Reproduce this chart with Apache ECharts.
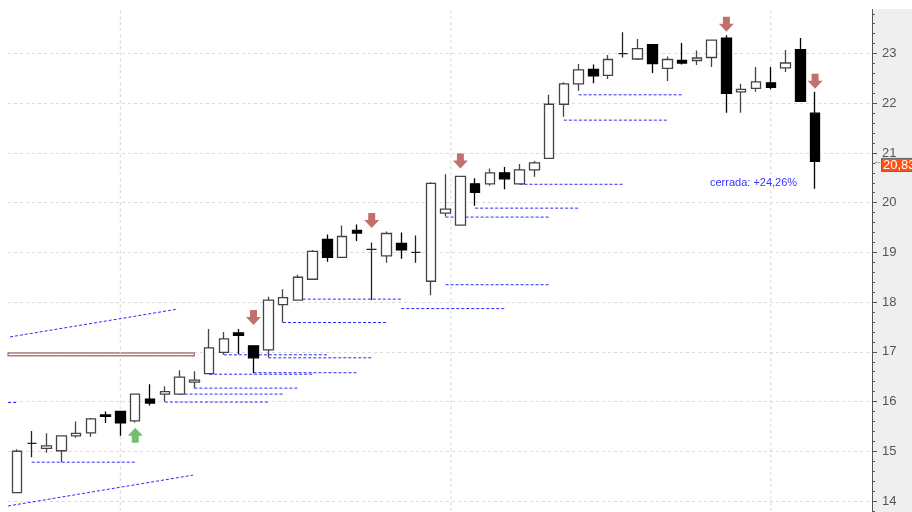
<!DOCTYPE html>
<html lang="es">
<head>
<meta charset="utf-8">
<title>Velas diarias</title>
<script src="https://cdn.jsdelivr.net/npm/echarts@6/dist/echarts.min.js"></script>
<style>
  html, body { margin: 0; padding: 0; background: #fff; }
  #chart { width: 912px; height: 512px; }
</style>
</head>
<body>
<div id="chart"></div>
<script>
// ===== DATOS =====
// velas 0..54 (apertura, cierre, minimo, maximo)
const opens  = [14.17, 15.16, 15.06, 15.01, 15.31, 15.37, 15.73, 15.80, 15.61, 16.05,
                16.15, 16.15, 16.39, 16.56, 16.99, 17.38, 17.12, 17.04, 17.95, 18.04,
                18.46, 19.26, 18.90, 19.44, 19.06, 18.93, 19.18, 19.00, 18.42, 19.79,
                19.55, 20.38, 20.38, 20.60, 20.38, 20.66, 20.89, 21.98, 22.39, 22.68,
                22.56, 23.00, 22.89, 23.18, 22.70, 22.86, 22.86, 22.92, 23.31, 22.23,
                22.30, 22.41, 22.71, 23.08, 21.80];
const closes = [15.00, 15.16, 15.11, 15.31, 15.36, 15.65, 15.70, 15.57, 16.15, 15.97,
                16.20, 16.49, 16.43, 17.08, 17.26, 17.33, 16.88, 18.04, 18.09, 18.50,
                19.02, 18.90, 19.32, 19.39, 19.06, 19.38, 19.05, 19.00, 20.39, 19.87,
                20.53, 20.21, 20.60, 20.48, 20.66, 20.80, 21.98, 22.39, 22.67, 22.55,
                22.88, 23.00, 23.10, 22.80, 22.88, 22.81, 22.91, 23.27, 22.20, 22.28,
                22.43, 22.32, 22.81, 22.04, 20.83];
const lows   = [14.17, 14.88, 14.97, 14.78, 15.27, 15.29, 15.57, 15.31, 15.58, 15.92,
                16.00, 16.15, 16.27, 16.55, 16.94, 16.95, 16.57, 16.89, 17.59, 18.04,
                18.46, 18.81, 18.90, 19.23, 18.04, 18.79, 18.87, 18.79, 18.14, 19.72,
                19.55, 19.94, 20.34, 20.27, 20.38, 20.52, 20.89, 21.73, 22.25, 22.40,
                22.49, 22.92, 22.87, 22.61, 22.45, 22.78, 22.77, 22.73, 21.81, 21.81,
                22.23, 22.28, 22.63, 22.04, 20.28];
const highs  = [15.04, 15.41, 15.36, 15.31, 15.60, 15.67, 15.80, 15.80, 16.15, 16.35,
                16.31, 16.63, 16.61, 17.46, 17.40, 17.46, 17.12, 18.11, 18.26, 18.55,
                19.05, 19.36, 19.54, 19.56, 19.20, 19.42, 19.40, 19.34, 20.41, 20.57,
                20.53, 20.49, 20.69, 20.72, 20.78, 20.84, 22.17, 22.42, 22.79, 22.78,
                22.97, 23.43, 23.29, 23.18, 22.94, 23.21, 23.06, 23.27, 23.37, 22.39,
                22.73, 22.73, 23.07, 23.31, 22.23];

const lastClose = 20.83;
const lastCloseLabel = '20,83';
const resultLabel = 'cerrada: +24,26%';

// soportes: [vela desde, vela hasta, precio]
const supports = [
  [-0.6, 0, 15.98], [1, 8, 14.78], [10, 17, 15.99], [11, 18, 16.15], [12, 19, 16.27],
  [13, 20, 16.55], [16, 23, 16.58], [14, 21, 16.94], [17, 24, 16.88], [18, 25, 17.59],
  [19, 26, 18.06], [26, 33, 17.87], [29, 36, 18.35], [29, 36, 19.71], [31, 38, 19.89],
  [34, 41, 20.37], [37, 44, 21.66], [38, 45, 22.17]
];
// canal: [x1, y1, x2, y2]
const channelLines = [
  [-0.47, 17.30, 10.89, 17.86],
  [-0.6, 13.90, 11.91, 14.52]
];
const zoneBox = [-0.6, 16.922, 12.0, 16.976];
const monthStarts = [6.99, 29.36, 51.0];
const sellSignals = [[16, 17.69], [24, 19.64], [30, 20.84], [48, 23.59], [54, 22.44]];
const buySignals = [[8, 15.32]];

const FONT = '"Liberation Sans", Arial, sans-serif';
const ARROW_DOWN = 'path://M4,0 L11,0 L11,7 L15,7 L7.5,15 L0,7 L4,7 Z';
const ARROW_UP = 'path://M7.5,0 L15,8 L11,8 L11,15 L4,15 L4,8 L0,8 Z';
const BLUE = '#2b2bff';

const ChartUI = {
  chart: null,

  segment(name, points, color, dash, z) {
    return {
      name,
      type: 'line',
      data: points,
      symbol: 'none',
      silent: true,
      z,
      lineStyle: { color, width: 1, type: dash },
      emphasis: { disabled: true }
    };
  },

  buildOption() {
    const candles = opens.map((o, i) => [i, o, closes[i], lows[i], highs[i]]);
    const series = [];

    monthStarts.forEach(x => {
      series.push(this.segment('mes', [[x, 23.87], [x, 13]], '#d6d6d6', [3, 3], 1));
    });
    supports.forEach(s => {
      series.push(this.segment('soporte', [[s[0], s[2]], [s[1], s[2]]], BLUE, [3, 2], 2));
    });
    channelLines.forEach(c => {
      series.push(this.segment('canal', [[c[0], c[1]], [c[2], c[3]]], BLUE, [3, 2], 2));
    });

    series.push({
      name: 'zona',
      type: 'line',
      data: [],
      markArea: {
        silent: true,
        itemStyle: { color: 'rgba(0,0,0,0)', borderColor: '#b07a7a', borderWidth: 1.4 },
        data: [[{ coord: [zoneBox[0], zoneBox[1]] }, { coord: [zoneBox[2], zoneBox[3]] }]]
      }
    });

    series.push({
      name: 'velas',
      type: 'candlestick',
      barWidth: 10,
      clip: false,
      z: 3,
      itemStyle: {
        color: '#ffffff',
        color0: '#000000',
        borderColor: '#444444',
        borderColor0: '#000000',
        borderColorDoji: '#222222',
        borderWidth: 1.3
      },
      data: candles
    });

    series.push({
      name: 'venta',
      type: 'scatter',
      symbol: ARROW_DOWN,
      symbolSize: [15, 15],
      itemStyle: { color: '#b24c4a' },
      z: 4,
      data: sellSignals
    });
    series.push({
      name: 'compra',
      type: 'scatter',
      symbol: ARROW_UP,
      symbolSize: [15, 15],
      itemStyle: { color: '#4fae4f' },
      z: 4,
      data: buySignals
    });

    return {
      animation: false,
      backgroundColor: '#fff',
      grid: { left: 8, right: 40, top: -45.9, bottom: -38.7, containLabel: false, outerBoundsMode: 'none' },
      xAxis: {
        type: 'value',
        min: -0.609,
        max: 57.85,
        show: false,
        splitLine: { show: false }
      },
      yAxis: {
        type: 'value',
        position: 'right',
        min: 13,
        max: 25,
        interval: 1,
        axisLine: { show: true, onZero: false, lineStyle: { color: '#555', width: 1 } },
        axisTick: { show: true, length: 5, lineStyle: { color: '#555' } },
        minorTick: { show: true, splitNumber: 5, length: 3, lineStyle: { color: '#555' } },
        axisLabel: { color: '#555', fontSize: 13, fontFamily: FONT, margin: 10 },
        splitLine: { show: true, lineStyle: { color: '#dadada', type: [3, 3] } }
      },
      series
    };
  },

  addOverlays() {
    const y = this.chart.convertToPixel({ yAxisIndex: 0 }, lastClose);
    this.chart.setOption({
      graphic: [
        { type: 'rect', silent: true, z: -10, shape: { x: 872, y: 0, width: 40, height: 512 }, style: { fill: '#efefef' } },
        // franja blanca superior (cabecera del grafico)
        { type: 'rect', silent: true, z: 200, shape: { x: 0, y: 0, width: 912, height: 9 }, style: { fill: '#ffffff' } },
        { type: 'text', silent: true, z: 10, x: 710, y: 177,
          style: { text: resultLabel, fill: '#3535ff', font: '11px ' + FONT } },
        { type: 'text', silent: true, z: 100, x: 873, y: y - 4,
          style: { text: '\u2190', fill: '#777', font: '9px ' + FONT } },
        { type: 'rect', silent: true, z: 100, shape: { x: 881.5, y: y - 3, width: 34, height: 13 },
          style: { fill: '#ff5216', stroke: '#666', lineWidth: 1 } },
        { type: 'text', silent: true, z: 101, x: 883, y: y - 2.5,
          style: { text: lastCloseLabel, fill: '#fff', font: '13px ' + FONT } }
      ]
    });
  },

  init() {
    try {
      this.chart = echarts.init(document.getElementById('chart'), null, { renderer: 'canvas' });
      this.chart.setOption(this.buildOption());
      this.addOverlays();
      console.log('grafico listo');
    } catch (error) {
      console.error('Error init:', error);
    }
  }
};

ChartUI.init();
</script>
</body>
</html>
